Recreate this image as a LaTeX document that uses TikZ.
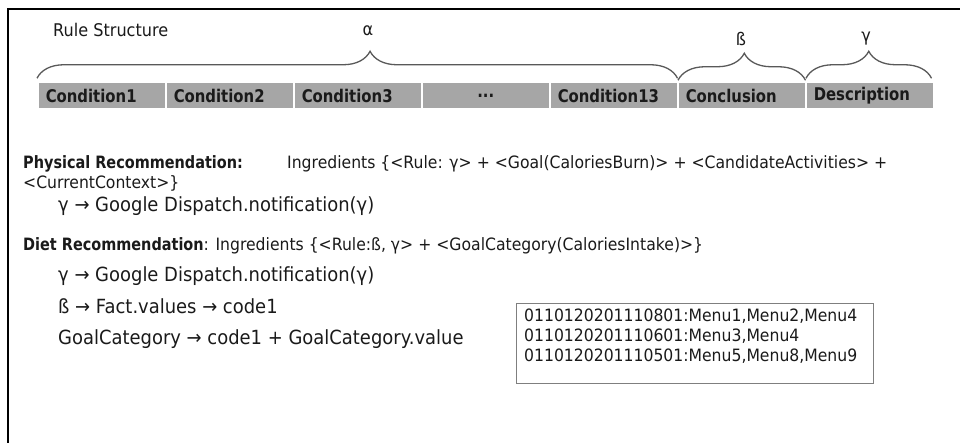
\documentclass[tikz,border=0pt]{standalone}
\usepackage{fontspec}
\setmainfont[FakeStretch=0.92,BoldFeatures={FakeStretch=0.85}]{DejaVu Sans}
\usepackage{tikz}
\usetikzlibrary{decorations.pathreplacing}
\definecolor{barfill}{HTML}{A6A6A6}
\definecolor{bracegray}{HTML}{595959}
\definecolor{inkgray}{HTML}{1A1A1A}
\definecolor{boxgray}{HTML}{7F7F7F}
\tikzset{
  cellbox/.style={anchor=west, fill=barfill, draw=white, line width=1.5pt,
    minimum width=128pt, minimum height=27pt, inner xsep=8pt, inner ysep=0pt,
    text width=112pt, align=left, text=inkgray,
    font=\fontsize{17.5}{20}\selectfont\bfseries},
  txt/.style={anchor=base west, inner sep=0pt, text=inkgray,
    font=\fontsize{17}{20}\selectfont},
  subtxt/.style={txt, font=\fontsize{19.5}{23}\selectfont},
  lbl/.style={inner sep=0pt, text=inkgray, font=\fontsize{17.5}{20}\selectfont},
  rulebrace/.style={decorate, decoration={brace, amplitude=27pt, aspect=#1},
    draw=bracegray, line width=1.3pt},
  rulebrace/.default=0.5,
  menubox/.style={anchor=north west, draw=boxgray, line width=1.3pt,
    minimum width=357pt, minimum height=80pt, inner sep=0pt}
}

\begin{document}
\begin{tikzpicture}[x=1pt,y=-1pt]
\useasboundingbox (0,0) rectangle (960,443);

%Frame
\draw [line width=2.5pt] (8,443) -- (8,9) -- (960,9);

%Rule structure bar
\node [lbl, anchor=west] (title) at (53,30) {Rule Structure};
\node [cellbox] (c1) at (37,95.5) {Condition1};
\node [cellbox] (c2) at (165,95.5) {Condition2};
\node [cellbox] (c3) at (293,95.5) {Condition3};
\node [cellbox, align=center] (c4) at (421,95.5) {...};
\node [cellbox] (c5) at (549,95.5) {Condition13};
\node [cellbox] (c6) at (677,95.5) {Conclusion};
\node [cellbox] (c7) at (805,95.5) {Description};

%Braces
\draw [rulebrace=0.52] ([yshift=3pt]c1.north west) -- ([xshift=-1pt,yshift=3pt]c5.north east);
\draw [rulebrace=0.52] ([xshift=1pt,yshift=1pt]c6.north west) -- ([xshift=-1pt,yshift=1pt]c6.north east);
\draw [rulebrace] ([xshift=1pt,yshift=3pt]c7.north west) -- ([xshift=-3pt,yshift=3pt]c7.north east);
\node [lbl] (alpha) at (368,31) {α};
\node [lbl] (beta) at (741,39) {ß};
\node [lbl] (gamma) at (866,39) {γ};

%Physical recommendation
\node [txt] (phys) at (23,169) {\bfseries Physical Recommendation:};
\node [txt] (physing) at (287,169) {Ingredients \{<Rule: γ> + <Goal(CaloriesBurn)> + <CandidateActivities> +};
\node [txt] (physctx) at (23,189) {<CurrentContext>\}};
\node [subtxt] (physgamma) at (58,212) {γ → Google Dispatch.notification(γ)};

%Diet recommendation
\node [txt] (diet) at (23,251) {\textbf{Diet Recommendation}: Ingredients \{<Rule:ß, γ> + <GoalCategory(CaloriesIntake)>\}};
\node [subtxt] (dietgamma) at (58,282) {γ → Google Dispatch.notification(γ)};
\node [subtxt] (dietbeta) at (58,313) {ß → Fact.values → code1};
\node [subtxt] (dietgoal) at (58,344) {GoalCategory → code1 + GoalCategory.value};

%Menu codes
\node [menubox] (menus) at (516,303) {};
\node [txt, anchor=north west, align=left] (menutext) at ([xshift=8pt,yshift=-6pt]menus.north west) {0110120201110801:Menu1,Menu2,Menu4\\0110120201110601:Menu3,Menu4\\0110120201110501:Menu5,Menu8,Menu9};

\end{tikzpicture}
\end{document}
